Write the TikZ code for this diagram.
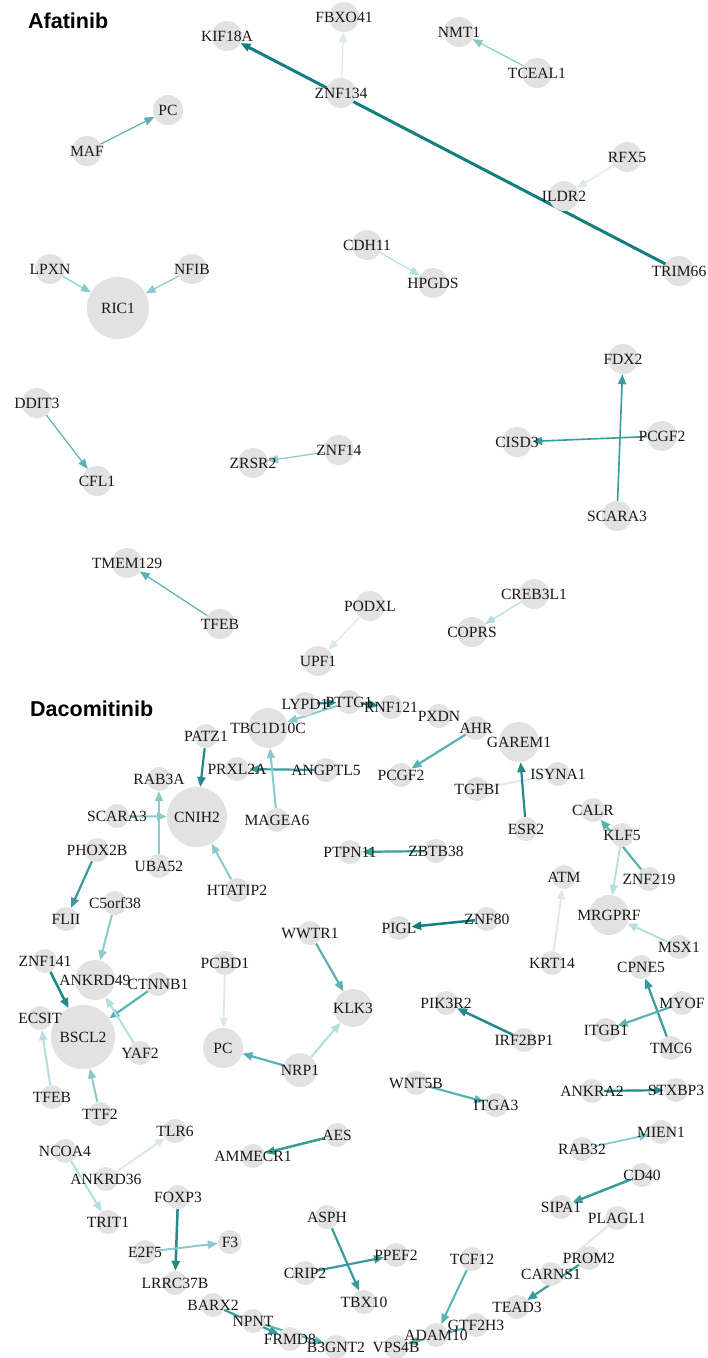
\documentclass[tikz,border=0pt]{standalone}
\usepackage{fontspec}
\setmainfont{Liberation Serif}
\newfontfamily\lblfont{Liberation Serif}
\newfontfamily\titlefont{Liberation Sans}
\usetikzlibrary{arrows.meta}
\pgfdeclarelayer{bg}
\pgfdeclarelayer{edges}
\pgfdeclarelayer{labels}
\pgfsetlayers{bg,edges,main,labels}
\definecolor{ng}{HTML}{E2E2E2}
\definecolor{eA}{HTML}{137E7E}
\definecolor{eB}{HTML}{23898A}
\definecolor{eC}{HTML}{3A9B9C}
\definecolor{eD}{HTML}{5BB2B3}
\definecolor{eE}{HTML}{8ACACB}
\definecolor{eF}{HTML}{B5DEE0}
\definecolor{eG}{HTML}{DCE8EF}
\tikzset{
 gdot/.style={circle, fill=ng, inner sep=0pt, minimum size=#1},
 glabel/.style={inner sep=0pt, text height=10.2pt, text depth=0pt, font=\lblfont\fontsize{15.6}{16}\selectfont, text=black!90},
 ttl/.style={anchor=base west, inner sep=0pt, font=\titlefont\bfseries\fontsize{21.5}{24}\selectfont},
 E/.style 2 args={draw=#1, line width=#2pt, -{Triangle[length=10pt,width=8pt]}},
}
\newcommand{\GN}[5]{\node[gdot=#4pt] (#1) at (#2,#3) {};
\begin{pgfonlayer}{labels}\node[glabel] (#1-l) at (#2,#3) {#5};\end{pgfonlayer}}
\begin{document}
\begin{tikzpicture}[x=1pt,y=-1pt]
\begin{pgfonlayer}{bg}
\fill[white] (0,0) rectangle (708,1358);
\end{pgfonlayer}
\useasboundingbox (0,0) rectangle (708,1358);
\node[ttl] (t1) at (28,28) {Afatinib};
\node[ttl] (t2) at (30,716) {Dacomitinib};
% ---------------- Afatinib nodes
\GN{aKIF18A}{227}{36}{30}{KIF18A}
\GN{aFBXO41}{344}{17}{30}{FBXO41}
\GN{aZNF134}{341}{93}{30}{ZNF134}
\GN{aNMT1}{459}{32}{30}{NMT1}
\GN{aTCEAL1}{537}{73}{30}{TCEAL1}
\GN{aPC}{168}{110}{30}{PC}
\GN{aMAF}{87}{151}{30}{MAF}
\GN{aRFX5}{627}{157}{30}{RFX5}
\GN{aILDR2}{564}{196}{30}{ILDR2}
\GN{aTRIM66}{679}{271}{30}{TRIM66}
\GN{aCDH11}{367}{245}{30}{CDH11}
\GN{aHPGDS}{433}{283}{30}{HPGDS}
\GN{aLPXN}{50}{269}{30}{LPXN}
\GN{aNFIB}{192}{269}{30}{NFIB}
\GN{aRIC1}{118}{308}{62}{RIC1}
\GN{aDDIT3}{37}{403}{30}{DDIT3}
\GN{aCFL1}{97}{481}{30}{CFL1}
\GN{aZRSR2}{253}{463}{30}{ZRSR2}
\GN{aZNF14}{339}{450}{30}{ZNF14}
\GN{aFDX2}{623}{359}{30}{FDX2}
\GN{aCISD3}{517}{442}{30}{CISD3}
\GN{aPCGF2}{662}{436}{30}{PCGF2}
\GN{aSCARA3}{617}{516}{30}{SCARA3}
\GN{aTMEM129}{127}{563}{30}{TMEM129}
\GN{aTFEB}{220}{624}{30}{TFEB}
\GN{aPODXL}{370}{606}{30}{PODXL}
\GN{aUPF1}{318}{661}{30}{UPF1}
\GN{aCREB3L1}{534}{594}{30}{CREB3L1}
\GN{aCOPRS}{472}{632}{30}{COPRS}
% ---------------- Dacomitinib nodes
\GN{dLYPD1}{305}{704}{24}{LYPD1}
\GN{dPTTG1}{349}{702}{24}{PTTG1}
\GN{dRNF121}{391}{707}{24}{RNF121}
\GN{dPXDN}{439}{716}{24}{PXDN}
\GN{dTBC1D10C}{268}{728}{40}{TBC1D10C}
\GN{dPATZ1}{206}{736}{24}{PATZ1}
\GN{dPRXL2A}{237}{769}{24}{PRXL2A}
\GN{dANGPTL5}{326}{770}{24}{ANGPTL5}
\GN{dMAGEA6}{277}{820}{24}{MAGEA6}
\GN{dCNIH2}{197}{817}{60}{CNIH2}
\GN{dRAB3A}{159}{779}{24}{RAB3A}
\GN{dUBA52}{159}{866}{24}{UBA52}
\GN{dSCARA3}{117}{816}{24}{SCARA3}
\GN{dHTATIP2}{237}{890}{24}{HTATIP2}
\GN{dPHOX2B}{97}{850}{24}{PHOX2B}
\GN{dFLII}{66}{919}{24}{FLII}
\GN{dC5orf38}{115}{903}{24}{C5orf38}
\GN{dANKRD49}{95}{980}{40}{ANKRD49}
\GN{dCTNNB1}{158}{984}{24}{CTNNB1}
\GN{dZNF141}{45}{961}{24}{ZNF141}
\GN{dBSCL2}{83}{1037}{64}{BSCL2}
\GN{dECSIT}{40}{1018}{24}{ECSIT}
\GN{dTFEB}{52}{1097}{24}{TFEB}
\GN{dYAF2}{140}{1053}{24}{YAF2}
\GN{dTTF2}{100}{1114}{24}{TTF2}
\GN{dPCBD1}{225}{963}{24}{PCBD1}
\GN{dPC}{223}{1048}{40}{PC}
\GN{dNRP1}{300}{1070}{34}{NRP1}
\GN{dKLK3}{353}{1008}{38}{KLK3}
\GN{dWWTR1}{310}{933}{24}{WWTR1}
\GN{dAHR}{476}{728}{24}{AHR}
\GN{dPCGF2}{401}{775}{24}{PCGF2}
\GN{dGAREM1}{519}{742}{40}{GAREM1}
\GN{dISYNA1}{558}{774}{24}{ISYNA1}
\GN{dTGFBI}{477}{789}{24}{TGFBI}
\GN{dESR2}{526}{829}{24}{ESR2}
\GN{dCALR}{593}{810}{24}{CALR}
\GN{dKLF5}{622}{835}{24}{KLF5}
\GN{dZNF219}{649}{879}{24}{ZNF219}
\GN{dMRGPRF}{609}{915}{40}{MRGPRF}
\GN{dMSX1}{679}{947}{24}{MSX1}
\GN{dATM}{564}{877}{24}{ATM}
\GN{dKRT14}{552}{963}{24}{KRT14}
\GN{dPTPN11}{350}{852}{24}{PTPN11}
\GN{dZBTB38}{436}{851}{24}{ZBTB38}
\GN{dPIGL}{399}{928}{24}{PIGL}
\GN{dZNF80}{487}{919}{24}{ZNF80}
\GN{dPIK3R2}{446}{1003}{24}{PIK3R2}
\GN{dIRF2BP1}{524}{1040}{24}{IRF2BP1}
\GN{dCPNE5}{641}{967}{24}{CPNE5}
\GN{dMYOF}{682}{1003}{24}{MYOF}
\GN{dITGB1}{606}{1030}{24}{ITGB1}
\GN{dTMC6}{671}{1048}{24}{TMC6}
\GN{dWNT5B}{416}{1083}{24}{WNT5B}
\GN{dITGA3}{496}{1105}{24}{ITGA3}
\GN{dANKRA2}{592}{1091}{24}{ANKRA2}
\GN{dSTXBP3}{676}{1090}{24}{STXBP3}
\GN{dMIEN1}{661}{1132}{24}{MIEN1}
\GN{dRAB32}{582}{1149}{24}{RAB32}
\GN{dCD40}{642}{1175}{24}{CD40}
\GN{dSIPA1}{561}{1207}{24}{SIPA1}
\GN{dPLAGL1}{617}{1218}{24}{PLAGL1}
\GN{dPROM2}{589}{1258}{24}{PROM2}
\GN{dCARNS1}{551}{1274}{24}{CARNS1}
\GN{dTEAD3}{517}{1307}{24}{TEAD3}
\GN{dTCF12}{472}{1259}{24}{TCF12}
\GN{dADAM10}{436}{1335}{24}{ADAM10}
\GN{dGTF2H3}{476}{1325}{24}{GTF2H3}
\GN{dVPS4B}{396}{1347}{24}{VPS4B}
\GN{dTLR6}{175}{1131}{24}{TLR6}
\GN{dNCOA4}{65}{1151}{24}{NCOA4}
\GN{dANKRD36}{106}{1179}{24}{ANKRD36}
\GN{dTRIT1}{108}{1222}{24}{TRIT1}
\GN{dAES}{337}{1135}{24}{AES}
\GN{dAMMECR1}{253}{1156}{24}{AMMECR1}
\GN{dFOXP3}{178}{1197}{24}{FOXP3}
\GN{dLRRC37B}{175}{1283}{24}{LRRC37B}
\GN{dE2F5}{145}{1252}{24}{E2F5}
\GN{dF3}{230}{1242}{24}{F3}
\GN{dASPH}{327}{1217}{24}{ASPH}
\GN{dTBX10}{364}{1302}{24}{TBX10}
\GN{dCRIP2}{305}{1273}{24}{CRIP2}
\GN{dPPEF2}{396}{1255}{24}{PPEF2}
\GN{dBARX2}{213}{1305}{24}{BARX2}
\GN{dNPNT}{253}{1321}{24}{NPNT}
\GN{dFRMD8}{290}{1339}{24}{FRMD8}
\GN{dB3GNT2}{336}{1347}{24}{B3GNT2}
% ---------------- edges
\begin{pgfonlayer}{edges}
\draw[E={eA}{3}] (aTRIM66) -- (aKIF18A);
\draw[E={eG}{1.2}] (aZNF134) -- (aFBXO41);
\draw[E={eE}{1.2}] (aTCEAL1) -- (aNMT1);
\draw[E={eD}{1.2}] (aMAF) -- (aPC);
\draw[E={eG}{1.2}] (aRFX5) -- (aILDR2);
\draw[E={eF}{1.2}] (aCDH11) -- (aHPGDS);
\draw[E={eE}{1.2}] (aLPXN) -- (aRIC1);
\draw[E={eE}{1.2}] (aNFIB) -- (aRIC1);
\draw[E={eD}{1.2}] (aDDIT3) -- (aCFL1);
\draw[E={eE}{1.2}] (aZNF14) -- (aZRSR2);
\draw[E={eC}{1.6}] (aSCARA3) -- (aFDX2);
\draw[E={eC}{1.6}] (aPCGF2) -- (aCISD3);
\draw[E={eD}{1.2}] (aTFEB) -- (aTMEM129);
\draw[E={eG}{1.2}] (aPODXL) -- (aUPF1);
\draw[E={eF}{1.2}] (aCREB3L1) -- (aCOPRS);
%
\draw[E={eB}{2.2}] (dLYPD1) -- (dPTTG1);
\draw[E={eB}{2.2}] (dPTTG1) -- (dRNF121);
\draw[E={eE}{2}] (dPTTG1) -- (dTBC1D10C);
\draw[E={eC}{2.2}] (dANGPTL5) -- (dPRXL2A);
\draw[E={eE}{2}] (dMAGEA6) -- (dTBC1D10C);
\draw[E={eB}{2.2}] (dPATZ1) -- (dCNIH2);
\draw[E={eE}{2}] (dUBA52) -- (dRAB3A);
\draw[E={eE}{2}] (dSCARA3) -- (dCNIH2);
\draw[E={eE}{2}] (dHTATIP2) -- (dCNIH2);
\draw[E={eC}{2.2}] (dPHOX2B) -- (dFLII);
\draw[E={eE}{2}] (dC5orf38) -- (dANKRD49);
\draw[E={eD}{2.2}] (dCTNNB1) -- (dBSCL2);
\draw[E={eB}{2.5}] (dZNF141) -- (dBSCL2);
\draw[E={eF}{2}] (dTFEB) -- (dECSIT);
\draw[E={eF}{2}] (dYAF2) -- (dANKRD49);
\draw[E={eE}{2}] (dTTF2) -- (dBSCL2);
\draw[E={eG}{1.8}] (dPCBD1) -- (dPC);
\draw[E={eD}{2.2}] (dNRP1) -- (dPC);
\draw[E={eF}{2}] (dNRP1) -- (dKLK3);
\draw[E={eD}{2.2}] (dWWTR1) -- (dKLK3);
\draw[E={eD}{2.2}] (dAHR) -- (dPCGF2);
\draw[E={eG}{1.8}] (dTGFBI) -- (dISYNA1);
\draw[E={eB}{2.2}] (dESR2) -- (dGAREM1);
\draw[E={eD}{2.2}] (dZNF219) -- (dCALR);
\draw[E={eF}{1.8}] (dKLF5) -- (dMRGPRF);
\draw[E={eF}{2}] (dMSX1) -- (dMRGPRF);
\draw[E={eG}{1.8}] (dKRT14) -- (dATM);
\draw[E={eC}{2.2}] (dZBTB38) -- (dPTPN11);
\draw[E={eA}{2.5}] (dZNF80) -- (dPIGL);
\draw[E={eB}{2.5}] (dIRF2BP1) -- (dPIK3R2);
\draw[E={eC}{2.2}] (dTMC6) -- (dCPNE5);
\draw[E={eD}{2.2}] (dMYOF) -- (dITGB1);
\draw[E={eD}{2.2}] (dWNT5B) -- (dITGA3);
\draw[E={eB}{2.2}] (dANKRA2) -- (dSTXBP3);
\draw[E={eE}{1.8}] (dRAB32) -- (dMIEN1);
\draw[E={eC}{2.5}] (dCD40) -- (dSIPA1);
\draw[E={eG}{1.8}] (dPLAGL1) -- (dCARNS1);
\draw[E={eC}{2.2}] (dPROM2) -- (dTEAD3);
\draw[E={eD}{2}] (dTCF12) -- (dADAM10);
\draw[E={eD}{2}] (dGTF2H3) -- (dVPS4B);
\draw[E={eG}{2}] (dANKRD36) -- (dTLR6);
\draw[E={eF}{2}] (dNCOA4) -- (dTRIT1);
\draw[E={eC}{2.5}] (dAES) -- (dAMMECR1);
\draw[E={eB}{2.5}] (dFOXP3) -- (dLRRC37B);
\draw[E={eE}{2}] (dE2F5) -- (dF3);
\draw[E={eC}{2.2}] (dASPH) -- (dTBX10);
\draw[E={eC}{2.2}] (dCRIP2) -- (dPPEF2);
\draw[E={eC}{2.2}] (dBARX2) -- (dFRMD8);
\draw[E={eD}{2}] (dNPNT) -- (dB3GNT2);
\end{pgfonlayer}
\end{tikzpicture}
\end{document}
